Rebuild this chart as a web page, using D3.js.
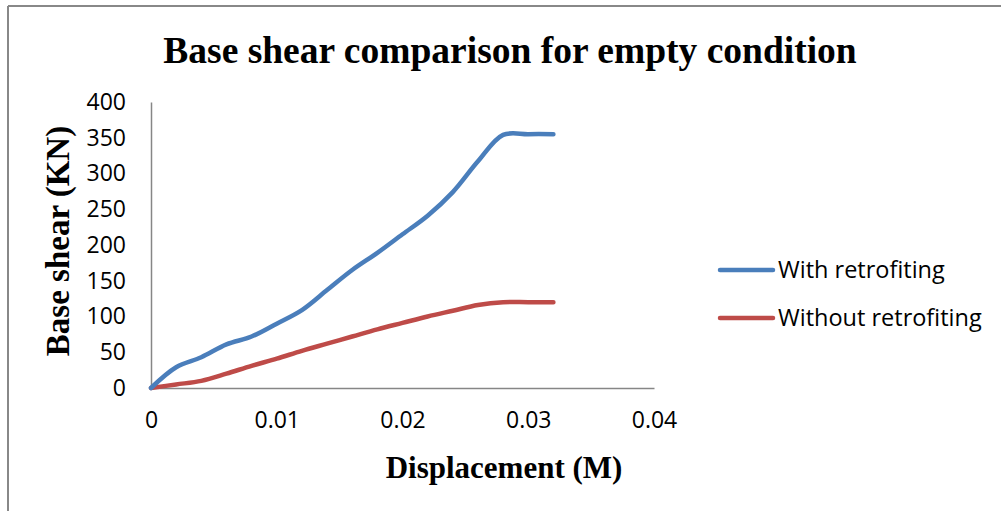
<!DOCTYPE html>
<html>
<head>
<meta charset="utf-8">
<script src="https://d3js.org/d3.v7.min.js"></script>
<style>
  body { margin: 0; background: #fff; }
</style>
</head>
<body>
<div id="chart"></div>
<script>
// displacement (M)
var displacement = [0, 0.002, 0.004, 0.006, 0.008, 0.010, 0.012, 0.014, 0.016, 0.018,
                    0.020, 0.022, 0.024, 0.026, 0.028, 0.030, 0.032];
// base shear (KN)
var withRetro = [0, 29, 43, 61, 72, 90, 109, 137, 165, 189, 215, 241, 274, 317, 354, 355, 355];
var withoutRetro = [0, 5, 10, 20, 31, 41, 52, 62, 72, 82, 91, 100, 108, 116, 120, 120, 120];
var seriesNames = ["With retrofiting", "Without retrofiting"];
var seriesColors = ["#4a7ebb", "#be4b48"];
var xTicks = [0, 0.01, 0.02, 0.03, 0.04];
var yTicks = [0, 50, 100, 150, 200, 250, 300, 350, 400];

var W = 1001, H = 511;
var svg = d3.select("#chart").append("svg")
    .attr("width", W)
    .attr("height", H);

// frame (only top and left edges visible)
svg.append("line").attr("x1", 8).attr("x2", W).attr("y1", 6).attr("y2", 6)
    .attr("stroke", "#888").attr("stroke-width", 2);
svg.append("line").attr("x1", 8).attr("x2", 8).attr("y1", 6).attr("y2", H)
    .attr("stroke", "#888").attr("stroke-width", 2);

var x = d3.scaleLinear().domain([0, 0.04]).range([151, 654]);
var y = d3.scaleLinear().domain([0, 400]).range([388, 102]);

var tickFont = "'Open Sans', sans-serif";
var serif = "'Liberation Serif', 'Times New Roman', serif";

// y axis
var yAxis = svg.append("g")
    .attr("transform", "translate(151,0)")
    .call(d3.axisLeft(y).tickValues(yTicks).tickSize(0).tickPadding(25).tickFormat(d3.format("d")));
yAxis.select(".domain").attr("stroke", "#868686").attr("stroke-width", 1.5);
yAxis.selectAll("text")
    .attr("font-family", tickFont).attr("font-size", 23).attr("fill", "#000");

// x axis
var xAxis = svg.append("g")
    .attr("transform", "translate(0,388)")
    .call(d3.axisBottom(x).tickValues(xTicks).tickSize(0).tickPadding(24)
      .tickFormat(function(d) { return d === 0 ? "0" : d3.format(".2f")(d); }));
xAxis.select(".domain").attr("stroke", "#868686").attr("stroke-width", 1.5);
xAxis.selectAll("text")
    .attr("font-family", tickFont).attr("font-size", 23).attr("fill", "#000");

// lines
var line = d3.line()
    .x(function(d) { return x(d[0]); })
    .y(function(d) { return y(d[1]); })
    .curve(d3.curveCatmullRom);

[withoutRetro, withRetro].forEach(function(vals, k) {
  var idx = k === 0 ? 1 : 0;
  svg.append("path")
      .datum(displacement.map(function(d, i) { return [d, vals[i]]; }))
      .attr("fill", "none")
      .attr("stroke", seriesColors[idx])
      .attr("stroke-width", 4.5)
      .attr("stroke-linecap", "round")
      .attr("stroke-linejoin", "round")
      .attr("d", line);
});

// title
svg.append("text")
    .attr("x", 510).attr("y", 63)
    .attr("text-anchor", "middle")
    .attr("font-family", serif)
    .attr("font-weight", "bold")
    .attr("font-size", 37.5)
    .text("Base shear comparison for empty condition");

// axis titles
svg.append("text")
    .attr("x", 504).attr("y", 478)
    .attr("text-anchor", "middle")
    .attr("font-family", serif)
    .attr("font-weight", "bold")
    .attr("font-size", 31)
    .text("Displacement (M)");

svg.append("text")
    .attr("transform", "translate(69,241) rotate(-90)")
    .attr("text-anchor", "middle")
    .attr("font-family", serif)
    .attr("font-weight", "bold")
    .attr("font-size", 33)
    .text("Base shear (KN)");

// legend
var legend = svg.selectAll(".legend")
    .data(seriesNames)
    .enter().append("g")
    .attr("class", "legend")
    .attr("transform", function(d, i) { return "translate(718," + (270 + i * 48) + ")"; });
legend.append("line")
    .attr("x1", 2).attr("x2", 55)
    .attr("stroke", function(d, i) { return seriesColors[i]; })
    .attr("stroke-width", 4.5)
    .attr("stroke-linecap", "round");
legend.append("text")
    .attr("x", 60).attr("dy", "0.35em")
    .attr("font-family", tickFont).attr("font-size", 23.5)
    .text(function(d) { return d; });
</script>
</body>
</html>
